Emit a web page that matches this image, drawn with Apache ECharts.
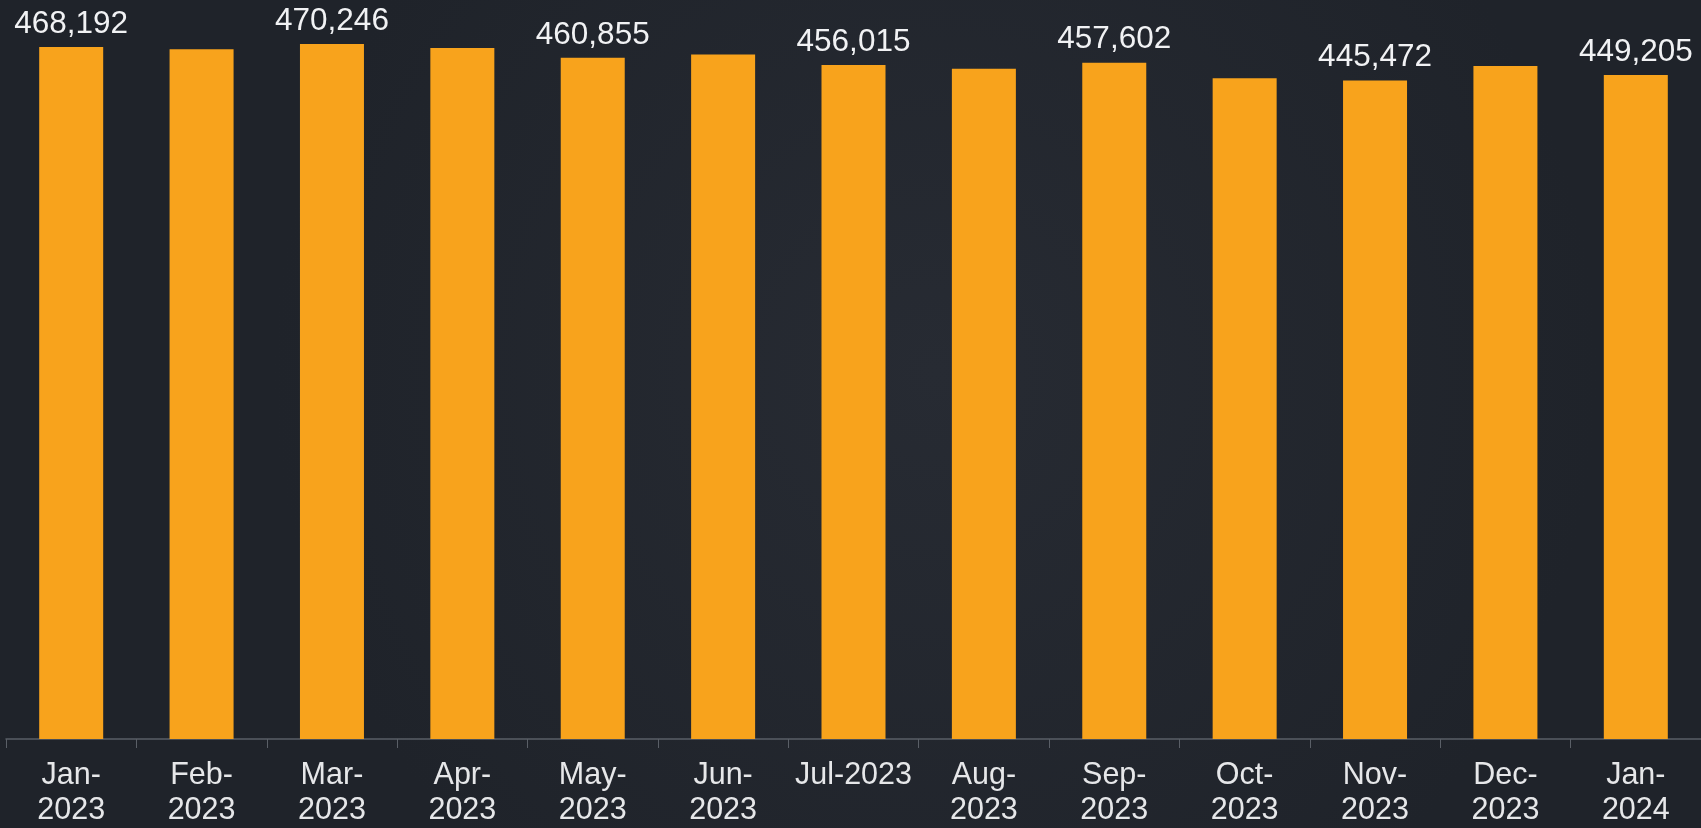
<!DOCTYPE html>
<html>
<head>
<meta charset="utf-8">
<script src="https://cdn.jsdelivr.net/npm/echarts@6/dist/echarts.min.js"></script>
<style>
html,body{margin:0;padding:0;background:#22262e;}
#chart{width:1701px;height:828px;}
</style>
</head>
<body>
<div id="chart"></div>
<script>
const categories = ['Jan-\n2023','Feb-\n2023','Mar-\n2023','Apr-\n2023','May-\n2023','Jun-\n2023','Jul-2023','Aug-\n2023','Sep-\n2023','Oct-\n2023','Nov-\n2023','Dec-\n2023','Jan-\n2024'];
const values = [468192, 466600, 470246, 467600, 460855, 463100, 456015, 453500, 457602, 447000, 445472, 455300, 449205];
const labelShown = [true, false, true, false, true, false, true, false, true, false, true, false, true];

const chart = echarts.init(document.getElementById('chart'));
chart.setOption({
  backgroundColor: {
    type: 'radial', x: 0.55, y: 0.45, r: 0.8,
    colorStops: [{offset: 0, color: '#272b33'}, {offset: 1, color: '#1f232a'}]
  },
  animation: false,
  grid: {left: 6, right: -2, top: -5, bottom: 86, containLabel: false},
  xAxis: {
    type: 'category',
    data: categories,
    axisLine: {lineStyle: {color: '#5a5f67', width: 1.5}},
    axisTick: {show: true, length: 9, alignWithLabel: false, lineStyle: {color: '#5a5f67'}},
    axisLabel: {
      color: '#e6e7e9', fontSize: 30.5, lineHeight: 35, margin: 19,
      fontFamily: 'Liberation Sans, Arial, sans-serif', interval: 0
    }
  },
  yAxis: {
    type: 'value', min: 0, max: 500000,
    show: false, splitLine: {show: false}
  },
  series: [{
    type: 'bar',
    barWidth: 64,
    itemStyle: {color: '#F8A31C'},
    data: values.map((v, i) => ({value: v, label: {show: labelShown[i]}})),
    label: {
      position: 'top', distance: 7,
      color: '#f1f2f4', fontSize: 31.5,
      fontFamily: 'Liberation Sans, Arial, sans-serif',
      formatter: p => p.value.toLocaleString('en-US')
    }
  }]
});
</script>
</body>
</html>
